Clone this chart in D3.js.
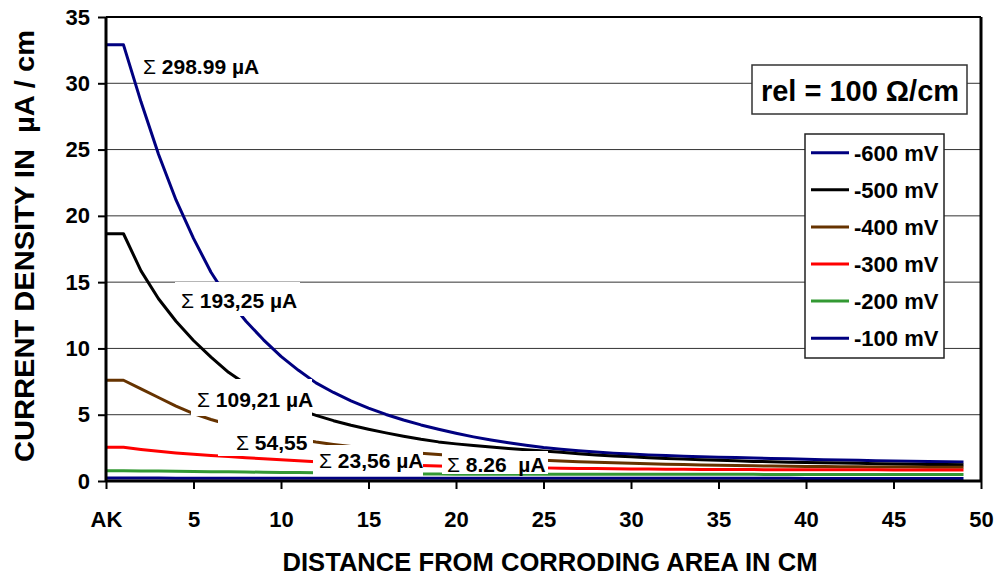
<!DOCTYPE html>
<html>
<head>
<meta charset="utf-8">
<script src="https://cdn.jsdelivr.net/npm/d3@7"></script>
<style>
  body { margin: 0; background: #fff; }
  text { font-family: "Liberation Sans", Arial, sans-serif; font-weight: bold; white-space: pre; }
</style>
</head>
<body>
<div id="chart"></div>
<script>
//distance index along the pipe (0 = AK)
var distance = d3.range(0, 50);

//current density values per potential, uA / cm
var mv600 = [32.9, 32.9, 28.6, 24.65, 21.2, 18.3, 15.75, 13.7, 12.05, 10.65, 9.4, 8.35, 7.4, 6.68, 6.05, 5.5,
  5.02, 4.6, 4.23, 3.9, 3.6, 3.33, 3.09, 2.88, 2.69, 2.52, 2.39, 2.28, 2.18, 2.1, 2.03, 1.97, 1.92, 1.875,
  1.835, 1.8, 1.765, 1.73, 1.7, 1.67, 1.64, 1.61, 1.585, 1.56, 1.535, 1.51, 1.49, 1.47, 1.45, 1.43];
var mv500 = [18.65, 18.65, 15.85, 13.75, 12.05, 10.6, 9.35, 8.2, 7.3, 6.55, 5.92, 5.4, 4.95, 4.55, 4.2, 3.9,
  3.63, 3.38, 3.15, 2.95, 2.8, 2.67, 2.56, 2.46, 2.36, 2.26, 2.16, 2.06, 1.97, 1.89, 1.82, 1.76, 1.7, 1.65,
  1.6, 1.56, 1.52, 1.48, 1.45, 1.42, 1.39, 1.37, 1.35, 1.33, 1.31, 1.29, 1.27, 1.25, 1.24, 1.23];
var mv400 = [7.6, 7.6, 6.95, 6.3, 5.65, 5.08, 4.64, 4.26, 3.93, 3.64, 3.38, 3.15, 2.94, 2.76, 2.6, 2.45,
  2.32, 2.2, 2.09, 1.99, 1.9, 1.82, 1.75, 1.68, 1.62, 1.56, 1.51, 1.46, 1.42, 1.38, 1.34, 1.3, 1.27, 1.24,
  1.21, 1.19, 1.17, 1.15, 1.13, 1.11, 1.1, 1.09, 1.08, 1.07, 1.06, 1.05, 1.05, 1.04, 1.04, 1.04];
var mv300 = [2.54, 2.54, 2.38, 2.24, 2.12, 2.02, 1.93, 1.84, 1.76, 1.68, 1.6, 1.53, 1.46, 1.4, 1.34, 1.29,
  1.24, 1.2, 1.16, 1.13, 1.1, 1.07, 1.05, 1.03, 1.01, 0.99, 0.97, 0.95, 0.94, 0.92, 0.91, 0.9, 0.89, 0.88,
  0.87, 0.87, 0.86, 0.86, 0.85, 0.85, 0.85, 0.84, 0.84, 0.84, 0.84, 0.83, 0.83, 0.83, 0.83, 0.83];
var mv200 = [0.78, 0.78, 0.76, 0.75, 0.73, 0.72, 0.7, 0.69, 0.68, 0.66, 0.65, 0.64, 0.63, 0.61, 0.6, 0.58,
  0.56, 0.55, 0.53, 0.52, 0.51, 0.5, 0.5, 0.5, 0.5, 0.5, 0.5, 0.5, 0.5, 0.5, 0.5, 0.5, 0.5, 0.5,
  0.5, 0.5, 0.5, 0.5, 0.49, 0.49, 0.49, 0.49, 0.49, 0.49, 0.49, 0.49, 0.49, 0.49, 0.49, 0.49];
var mv100 = [0.22, 0.22, 0.22, 0.22, 0.21, 0.21, 0.21, 0.21, 0.21, 0.21, 0.2, 0.2, 0.2, 0.2, 0.2, 0.2,
  0.2, 0.2, 0.2, 0.2, 0.2, 0.2, 0.2, 0.2, 0.2, 0.2, 0.2, 0.2, 0.2, 0.2, 0.2, 0.2, 0.2, 0.2,
  0.2, 0.2, 0.2, 0.2, 0.2, 0.2, 0.19, 0.19, 0.19, 0.19, 0.19, 0.19, 0.19, 0.19, 0.19, 0.19];

var seriesNames = ["-600 mV", "-500 mV", "-400 mV", "-300 mV", "-200 mV", "-100 mV"];
var seriesValues = [mv600, mv500, mv400, mv300, mv200, mv100];
var seriesColors = ["#000080", "#000000", "#663300", "#ff0000", "#339933", "#000080"];

//tick labels
var xTicks = [0, 5, 10, 15, 20, 25, 30, 35, 40, 45, 50];
var xTickLabels = ["AK", "5", "10", "15", "20", "25", "30", "35", "40", "45", "50"];
var yTicks = [0, 5, 10, 15, 20, 25, 30, 35];

//sum annotations
var sumTexts = ["298.99 \u00b5A", "193,25 \u00b5A", "109,21 \u00b5A", "54,55", "23,56 \u00b5A", "8.26  \u00b5A"];

//setting svg dimension
var svgWidth = 998;
var svgHeight = 577;

var plot = { left: 106, right: 981, top: 17, bottom: 481 };

var svg = d3.select("#chart")
  .append("svg")
  .attr("width", svgWidth)
  .attr("height", svgHeight);

var xScale = d3.scaleLinear().domain([0, 50]).range([plot.left, plot.right]);
var yScale = d3.scaleLinear().domain([0, 35]).range([plot.bottom, plot.top]);

//gridlines
svg.append("g")
  .selectAll("line")
  .data(yTicks.filter(d => d > 0 && d < 35))
  .enter()
  .append("line")
  .attr("x1", plot.left)
  .attr("x2", plot.right)
  .attr("y1", d => yScale(d))
  .attr("y2", d => yScale(d))
  .attr("stroke", "#333")
  .attr("stroke-width", 1);

//top and right frame
svg.append("line")
  .attr("x1", plot.left).attr("x2", plot.right)
  .attr("y1", plot.top).attr("y2", plot.top)
  .attr("stroke", "#000").attr("stroke-width", 2);
svg.append("line")
  .attr("x1", plot.right).attr("x2", plot.right)
  .attr("y1", plot.top).attr("y2", plot.bottom)
  .attr("stroke", "#000").attr("stroke-width", 3);

//series lines
var line = d3.line()
  .x((d, i) => xScale(distance[i]))
  .y(d => yScale(d));

svg.append("g")
  .selectAll("path")
  .data(seriesValues)
  .enter()
  .append("path")
  .attr("d", d => line(d))
  .attr("fill", "none")
  .attr("stroke", (d, i) => seriesColors[i])
  .attr("stroke-width", 3)
  .attr("stroke-linejoin", "round");

//sum labels with white boxes
var boxes = [
  null,
  { x: 175, y: 282, w: 125, h: 34 },
  { x: 191, y: 379, w: 121, h: 37 },
  { x: 218, y: 418, w: 95, h: 38 },
  { x: 313, y: 445, w: 110, h: 31 },
  { x: 442, y: 451, w: 106, h: 23 }
];
var textPos = [
  { x: 143, y: 74 },
  { x: 181, y: 308 },
  { x: 197, y: 407 },
  { x: 236, y: 450 },
  { x: 319, y: 468 },
  { x: 447, y: 472 }
];

sumTexts.forEach((t, i) => {
  if (boxes[i]) {
    svg.append("rect")
      .attr("x", boxes[i].x)
      .attr("y", boxes[i].y)
      .attr("width", boxes[i].w)
      .attr("height", boxes[i].h)
      .attr("fill", "#fff");
  }
  var label = svg.append("text")
    .attr("x", textPos[i].x)
    .attr("y", textPos[i].y)
    .style("font-size", "21px")
    .attr("fill", "#000");
  label.append("tspan").style("font-weight", "normal").text("\u03a3 ");
  label.append("tspan").text(t);
});

//axes
var bottomAxis = d3.axisBottom(xScale)
  .tickValues(xTicks)
  .tickSize(8)
  .tickPadding(22)
  .tickFormat((d, i) => xTickLabels[i]);
var leftAxis = d3.axisLeft(yScale)
  .tickValues(yTicks)
  .tickSize(8)
  .tickPadding(8);

var xAxis = svg.append("g")
  .attr("transform", `translate(0, ${plot.bottom})`)
  .call(bottomAxis);
var yAxis = svg.append("g")
  .attr("transform", `translate(${plot.left}, 0)`)
  .call(leftAxis);

[xAxis, yAxis].forEach(ax => {
  ax.select(".domain").attr("stroke", "#000").attr("stroke-width", 3);
  ax.selectAll(".tick line").attr("stroke", "#000").attr("stroke-width", 2);
  ax.selectAll(".tick text")
    .attr("fill", "#000")
    .style("font-size", "22px")
    .style("font-family", "'Liberation Sans', Arial, sans-serif")
    .style("font-weight", "bold");
});
xAxis.select(".domain").attr("d", `M${plot.left},0H${plot.right}`);
yAxis.select(".domain").attr("d", `M0,${plot.top}V${plot.bottom}`);

//axis titles
svg.append("text")
  .attr("x", 550)
  .attr("y", 571)
  .attr("text-anchor", "middle")
  .attr("textLength", 535)
  .attr("lengthAdjust", "spacingAndGlyphs")
  .style("font-size", "26px")
  .text("DISTANCE FROM CORRODING AREA IN CM");

svg.append("text")
  .attr("transform", "translate(34, 246) rotate(-90)")
  .attr("text-anchor", "middle")
  .attr("textLength", 432)
  .attr("lengthAdjust", "spacingAndGlyphs")
  .style("font-size", "27px")
  .text("CURRENT DENSITY IN  \u00b5A / cm");

//resistance box
svg.append("rect")
  .attr("x", 752).attr("y", 65)
  .attr("width", 215).attr("height", 49)
  .attr("fill", "#fff")
  .attr("stroke", "#333").attr("stroke-width", 1.5);
svg.append("text")
  .attr("x", 860)
  .attr("y", 101)
  .attr("text-anchor", "middle")
  .style("font-size", "29px")
  .text("rel = 100 \u03a9/cm");

//legend
var legend = svg.append("g").attr("transform", "translate(805, 134)");
legend.append("rect")
  .attr("width", 139).attr("height", 224)
  .attr("fill", "#fff")
  .attr("stroke", "#222").attr("stroke-width", 1.5);

var legendRows = legend.selectAll("g.row")
  .data(seriesNames)
  .enter()
  .append("g")
  .attr("class", "row")
  .attr("transform", (d, i) => `translate(0, ${18.7 + i * 37.1})`);
legendRows.append("line")
  .attr("x1", 6).attr("x2", 44)
  .attr("stroke", (d, i) => seriesColors[i])
  .attr("stroke-width", 3);
legendRows.append("text")
  .attr("x", 49)
  .attr("y", 8)
  .style("font-size", "22px")
  .text(d => d);
</script>
</body>
</html>
